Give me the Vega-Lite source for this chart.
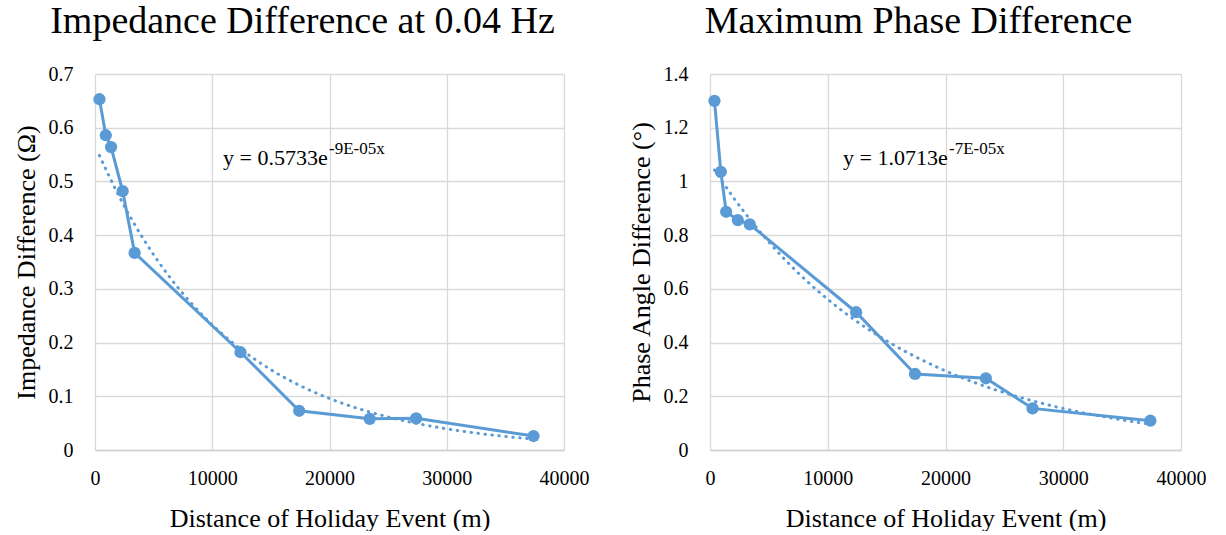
{
  "$schema": "https://vega.github.io/schema/vega-lite/v6.json",
  "background": "white",
  "padding": {"left": 13, "top": 3, "right": 0, "bottom": 0},
  "spacing": 39,
  "datasets": {
    "d": [
      {"distance": 380, "impedance": 0.653, "phase": 1.300},
      {"distance": 920, "impedance": 0.586, "phase": 1.036},
      {"distance": 1370, "impedance": 0.564, "phase": 0.887},
      {"distance": 2360, "impedance": 0.482, "phase": 0.856},
      {"distance": 3380, "impedance": 0.367, "phase": 0.840},
      {"distance": 12410, "impedance": 0.182, "phase": 0.513},
      {"distance": 17410, "impedance": 0.073, "phase": 0.283},
      {"distance": 23430, "impedance": 0.058, "phase": 0.267},
      {"distance": 27390, "impedance": 0.059, "phase": 0.155},
      {"distance": 37400, "impedance": 0.026, "phase": 0.109}
    ]
  },
  "config": {
    "font": "Liberation Serif",
    "view": {"stroke": null},
    "axis": {
      "gridColor": "#D9D9D9", "gridWidth": 1.3, "ticks": false, "domain": false,
      "labelFont": "Liberation Serif", "labelFontSize": 20, "labelColor": "#000",
      "titleFont": "Liberation Serif", "titleFontSize": 26, "titleFontWeight": "normal", "titleColor": "#000"
    },
    "axisX": {"domain": true, "domainColor": "#D0D0D0", "domainWidth": 1.5, "labelPadding": 18, "labelFlush": false, "titlePadding": 17},
    "axisY": {"labelPadding": 22, "titlePadding": 9},
    "title": {"font": "Liberation Serif", "fontSize": 38, "fontWeight": "normal", "color": "#000", "offset": 23, "dx": -27}
  },
  "hconcat": [
    {
      "width": 469, "height": 376,
      "title": "Impedance Difference at 0.04 Hz",
      "data": {"name": "d"},
      "layer": [
        {
          "mark": {"type": "line", "color": "#5B9BD5", "strokeWidth": 3},
          "encoding": {
            "x": {"field": "distance", "type": "quantitative", "scale": {"domain": [0, 40000], "nice": false},
                  "axis": {"values": [0, 10000, 20000, 30000, 40000], "format": "d", "title": "Distance of Holiday Event (m)"}},
            "y": {"field": "impedance", "type": "quantitative", "scale": {"domain": [0, 0.7], "nice": false},
                  "axis": {"values": [0, 0.1, 0.2, 0.3, 0.4, 0.5, 0.6, 0.7], "format": ".1~f", "title": "Impedance Difference (Ω)"}}
          }
        },
        {
          "mark": {"type": "point", "filled": true, "opacity": 1, "color": "#5B9BD5", "size": 150},
          "encoding": {"x": {"field": "distance", "type": "quantitative"}, "y": {"field": "impedance", "type": "quantitative"}}
        },
        {
          "transform": [
            {"calculate": "log(datum.impedance)", "as": "lny"},
            {"regression": "lny", "on": "distance", "method": "poly", "order": 1},
            {"calculate": "exp(datum.lny)", "as": "impedance"}
          ],
          "mark": {"type": "line", "color": "#5B9BD5", "strokeWidth": 3, "strokeDash": [0.5, 6.5], "strokeCap": "round", "interpolate": "monotone"},
          "encoding": {"x": {"field": "distance", "type": "quantitative"}, "y": {"field": "impedance", "type": "quantitative"}}
        },
        {
          "transform": [{"aggregate": [{"op": "count", "as": "n"}]}],
          "mark": {"type": "text", "text": "y = 0.5733e", "align": "left", "baseline": "alphabetic", "fontSize": 22, "font": "Liberation Serif", "color": "#000"},
          "encoding": {"x": {"datum": 10917}, "y": {"datum": 0.531}}
        },
        {
          "transform": [{"aggregate": [{"op": "count", "as": "n"}]}],
          "mark": {"type": "text", "text": "-9E-05x", "align": "left", "baseline": "alphabetic", "fontSize": 17, "font": "Liberation Serif", "color": "#000"},
          "encoding": {"x": {"datum": 19960}, "y": {"datum": 0.551}}
        }
      ]
    },
    {
      "width": 471, "height": 376,
      "title": "Maximum Phase Difference",
      "data": {"name": "d"},
      "layer": [
        {
          "mark": {"type": "line", "color": "#5B9BD5", "strokeWidth": 3},
          "encoding": {
            "x": {"field": "distance", "type": "quantitative", "scale": {"domain": [0, 40000], "nice": false},
                  "axis": {"values": [0, 10000, 20000, 30000, 40000], "format": "d", "title": "Distance of Holiday Event (m)"}},
            "y": {"field": "phase", "type": "quantitative", "scale": {"domain": [0, 1.4], "nice": false},
                  "axis": {"values": [0, 0.2, 0.4, 0.6, 0.8, 1, 1.2, 1.4], "format": ".1~f", "title": "Phase Angle Difference (°)"}}
          }
        },
        {
          "mark": {"type": "point", "filled": true, "opacity": 1, "color": "#5B9BD5", "size": 150},
          "encoding": {"x": {"field": "distance", "type": "quantitative"}, "y": {"field": "phase", "type": "quantitative"}}
        },
        {
          "transform": [
            {"calculate": "log(datum.phase)", "as": "lny"},
            {"regression": "lny", "on": "distance", "method": "poly", "order": 1},
            {"calculate": "exp(datum.lny)", "as": "phase"}
          ],
          "mark": {"type": "line", "color": "#5B9BD5", "strokeWidth": 3, "strokeDash": [0.5, 6.5], "strokeCap": "round", "interpolate": "monotone"},
          "encoding": {"x": {"field": "distance", "type": "quantitative"}, "y": {"field": "phase", "type": "quantitative"}}
        },
        {
          "transform": [{"aggregate": [{"op": "count", "as": "n"}]}],
          "mark": {"type": "text", "text": "y = 1.0713e", "align": "left", "baseline": "alphabetic", "fontSize": 22, "font": "Liberation Serif", "color": "#000"},
          "encoding": {"x": {"datum": 11295}, "y": {"datum": 1.061}}
        },
        {
          "transform": [{"aggregate": [{"op": "count", "as": "n"}]}],
          "mark": {"type": "text", "text": "-7E-05x", "align": "left", "baseline": "alphabetic", "fontSize": 17, "font": "Liberation Serif", "color": "#000"},
          "encoding": {"x": {"datum": 20297}, "y": {"datum": 1.102}}
        }
      ]
    }
  ]
}
